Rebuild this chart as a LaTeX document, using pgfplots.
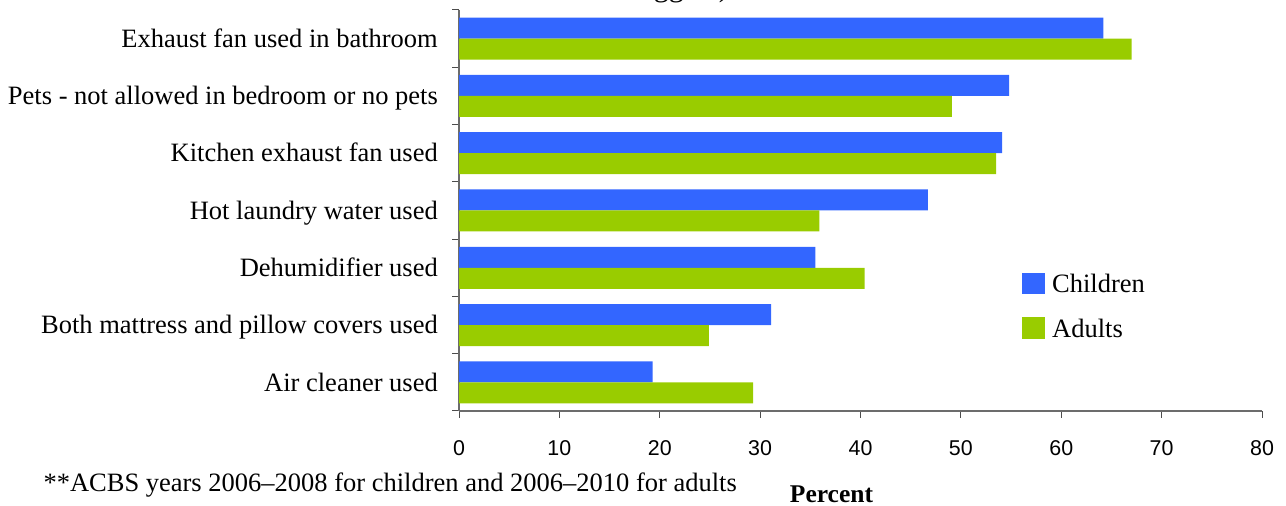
\documentclass[border=0pt]{standalone}
\usepackage{pgfplots}
\pgfplotsset{compat=1.18}
\usepackage{fontspec}
\setmainfont{Liberation Serif}
\newfontfamily\sansf{Liberation Sans}
\definecolor{cblue}{HTML}{3366FF}
\definecolor{cgreen}{HTML}{99CC00}
\newcommand\lab{\fontsize{26.5bp}{30bp}\selectfont}
\begin{document}
\begin{tikzpicture}[x=1bp,y=1bp]
\useasboundingbox (0,0) rectangle (1286,506);
\node[anchor=base east, inner sep=0pt, font=\fontsize{30bp}{34bp}\selectfont] at (729,509.5) {Triggers)};
\begin{axis}[
  at={(459bp,95bp)}, anchor=south west,
  scale only axis, width=803bp, height=401bp,
  xbar, bar width=21bp,
  xmin=0, xmax=80, ymin=-0.5, ymax=6.5,
  xtick={0,10,...,80},
  ytick={-0.5,0.5,...,6.5},
  yticklabels={{},Air cleaner used,Both mattress and pillow covers used,Dehumidifier used,Hot laundry water used,Kitchen exhaust fan used,Pets - not allowed in bedroom or no pets,Exhaust fan used in bathroom},
  axis x line*=bottom, axis y line*=left,
  axis line style={draw=gray!85!black, line width=1.3bp},
  tick style={draw=black!70, line width=1bp},
  tick align=outside, major tick length=7bp,
  /pgf/number format/assume math mode=true,
  xticklabel style={font=\sansf\fontsize{21.4bp}{24bp}\selectfont, inner sep=0pt, anchor=north, yshift=-22bp},
  yticklabel style={font=\lab, inner sep=0pt, anchor=east, text height=17.5bp, text depth=0pt, xshift=-14bp, yshift=-28.64bp},
  legend cell align=left,
  legend image code/.code={\fill[#1] (0bp,-10bp) rectangle (23bp,11.6bp);},
  legend style={at={(0.7011,0.345)}, anchor=north west, draw=none, fill=none, inner sep=0pt,
    row sep=22.9bp, column sep=7bp, nodes={inner sep=0pt, font=\lab}},
]
\addplot[fill=cblue, draw=none, bar shift=10.5bp] coordinates {
  (64.2,6) (54.8,5) (54.1,4) (46.7,3) (35.5,2) (31.1,1) (19.3,0)};
\addlegendentry{Children}
\addplot[fill=cgreen, draw=none, bar shift=-10.5bp] coordinates {
  (67.0,6) (49.1,5) (53.5,4) (35.9,3) (40.4,2) (24.9,1) (29.3,0)};
\addlegendentry{Adults}
\end{axis}
\node[anchor=base west, font=\lab] at (40,14) {**ACBS years 2006--2008 for children and 2006--2010 for adults};
\node[anchor=base, font=\fontsize{25.5bp}{30bp}\selectfont\bfseries] at (831.5,3) {Percent};
\end{tikzpicture}
\end{document}
